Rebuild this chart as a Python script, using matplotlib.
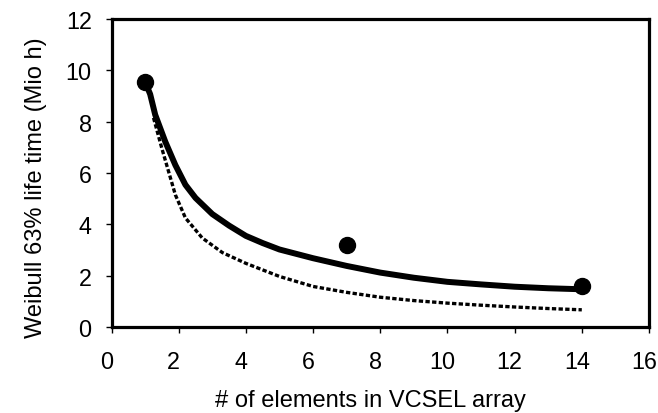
import matplotlib
matplotlib.use("Agg")
import matplotlib.pyplot as plt
from matplotlib.transforms import ScaledTranslation

plt.rcParams['font.family'] = ['Liberation Sans', 'DejaVu Sans']

# data
point_x = [1, 7, 14]
point_y = [9.55, 3.2, 1.6]

fit_x = [1, 1.15, 1.3, 1.6, 1.9, 2.2, 2.5, 3.0, 3.5, 4, 4.5, 5, 6, 7, 8, 9, 10,
         11, 12, 13, 14]
fit_y = [9.55, 9.07, 8.27, 7.22, 6.31, 5.54, 5.03, 4.40, 3.95, 3.55, 3.27, 3.02,
         2.68, 2.38, 2.12, 1.92, 1.76, 1.66, 1.57, 1.51, 1.47]

dot_x = [1.25, 1.5, 1.7, 1.9, 2.2, 2.7, 3.3, 4, 5, 6, 7, 8, 9, 10, 11, 12, 13, 14]
dot_y = [8.15, 6.95, 6.05, 5.15, 4.25, 3.47, 2.9, 2.48, 1.97, 1.58, 1.35, 1.16,
         1.03, 0.93, 0.85, 0.78, 0.72, 0.67]

x_ticks = [0, 2, 4, 6, 8, 10, 12, 14, 16]
y_ticks = [0, 2, 4, 6, 8, 10, 12]

fig = plt.figure(figsize=(6.58, 4.14), dpi=100)
ax = fig.add_axes([0.1695, 0.2077, 0.8168, 0.744])

ax.plot(dot_x, dot_y, color='black', lw=2.4, linestyle=(0, (1.3, 0.7)),
        dash_capstyle='butt', zorder=2)
ax.plot(fit_x, fit_y, color='black', lw=4.3, solid_capstyle='round',
        solid_joinstyle='round', zorder=3)
ax.plot(point_x, point_y, 'o', color='black', markersize=11.5, zorder=4)

ax.set_xlim(0, 16)
ax.set_ylim(0, 12)
ax.set_xticks(x_ticks)
ax.set_yticks(y_ticks)
ax.tick_params(direction='out', length=4.3, width=1, labelsize=16.8)
ax.tick_params(axis='x', pad=12)
ax.tick_params(axis='y', pad=10)
for s in ax.spines.values():
    s.set_linewidth(2.3)

shift = ScaledTranslation(-5 / 100, 0, fig.dpi_scale_trans)
for lab in ax.get_xticklabels():
    lab.set_transform(lab.get_transform() + shift)

fig.text(370.5 / 658, 1 - 406.7 / 414, '# of elements in VCSEL array',
         fontsize=17, ha='center', va='baseline')
fig.text(42 / 658, 1 - 187.5 / 414, 'Weibull 63% life time (Mio h)',
         fontsize=17, ha='center', va='baseline', rotation=90,
         rotation_mode='anchor')

fig.savefig('out.png', dpi=100)
